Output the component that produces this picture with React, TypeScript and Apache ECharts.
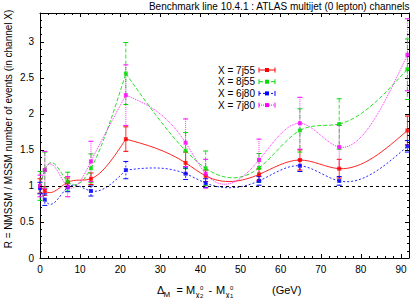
import React, { useEffect, useRef } from "react";
import * as echarts from "echarts";

const xValues = [0, 1.2, 6.9, 12.7, 21.4, 36.3, 41.3, 54.6, 64.8, 74.6, 91.6];

const r7j55 = [1.0, 0.93, 1.05, 1.1, 1.65, 1.32, 1.14, 1.16, 1.36, 1.24, 1.77];
const e7j55 = [0.1, 0.06, 0.06, 0.08, 0.17, 0.15, 0.08, 0.08, 0.14, 0.13, 0.2];

const r8j55 = [1.0, 1.22, 1.06, 1.245, 2.56, 1.49, 1.245, 1.25, 1.77, 1.86, 2.62];
const e8j55 = [0.2, 0.25, 0.13, 0.2, 0.43, 0.25, 0.24, 0.2, 0.3, 0.35, 0.42];

const r6j80 = [0.97, 0.81, 0.98, 0.93, 1.22, 1.17, 1.04, 1.07, 1.28, 1.07, 1.55];
const e6j80 = [0.08, 0.08, 0.06, 0.07, 0.12, 0.08, 0.06, 0.06, 0.08, 0.06, 0.08];

const r7j80 = [1.0, 1.22, 0.99, 1.34, 2.26, 1.6, 1.17, 1.36, 1.87, 1.54, 2.82];
const e7j80 = [0.15, 0.26, 0.14, 0.28, 0.42, 0.33, 0.2, 0.29, 0.36, 0.3, 0.5];

const seriesNames = ["X = 7j55", "X = 8j55", "X = 6j80", "X = 7j80"];
const seriesColors = ["#ff0000", "#00dd00", "#0000ff", "#ff00ff"];
const seriesDash: any[] = ["solid", [4, 2], [2, 2], [1, 1]];
const seriesValues = [r7j55, r8j55, r6j80, r7j80];
const seriesErrors = [e7j55, e8j55, e6j80, e7j80];
// the curve is smoothed in separate pieces, joined at this point index
const curveBreaks = [0, 4, 10];

const titleText = "Benchmark line 10.4.1 : ATLAS multijet (0 lepton) channels";
const yTitle = "R = NMSSM / MSSM number of events (in channel X)";
const refLine = 1;

const FONT = "Liberation Sans, Arial, sans-serif";

// natural cubic spline second derivatives
function secondDerivs(xs: number[], ys: number[]): number[] {
  const n = xs.length;
  const M = new Array(n).fill(0);
  if (n < 3) return M;
  const a: number[] = [], b: number[] = [], c: number[] = [], d: number[] = [];
  for (let i = 1; i < n - 1; i++) {
    const h0 = xs[i] - xs[i - 1];
    const h1 = xs[i + 1] - xs[i];
    a.push(h0);
    b.push(2 * (h0 + h1));
    c.push(h1);
    d.push(6 * ((ys[i + 1] - ys[i]) / h1 - (ys[i] - ys[i - 1]) / h0));
  }
  const m = b.length;
  for (let i = 1; i < m; i++) {
    const w = a[i] / b[i - 1];
    b[i] -= w * c[i - 1];
    d[i] -= w * d[i - 1];
  }
  const sol = new Array(m).fill(0);
  sol[m - 1] = d[m - 1] / b[m - 1];
  for (let i = m - 2; i >= 0; i--) sol[i] = (d[i] - c[i] * sol[i + 1]) / b[i];
  for (let i = 0; i < m; i++) M[i + 1] = sol[i];
  return M;
}

// per-segment [M_i, M_{i+1}] from piecewise splines
function segmentCurvatures(xs: number[], ys: number[]): number[][] {
  const segs: number[][] = [];
  for (let p = 0; p < curveBreaks.length - 1; p++) {
    const s = curveBreaks[p], e = curveBreaks[p + 1];
    const M = secondDerivs(xs.slice(s, e + 1), ys.slice(s, e + 1));
    for (let i = 0; i < e - s; i++) segs[s + i] = [M[i], M[i + 1]];
  }
  return segs;
}

export default function App() {
  const ref = useRef<HTMLDivElement>(null);
  useEffect(() => {
    if (!ref.current) return;
    const chart = echarts.init(ref.current, null, { renderer: "svg" });

    const axisCommon = (show: boolean) => ({
      axisLine: { show: true, onZero: false, lineStyle: { color: "#000", width: 1 } },
      axisTick: { show: true, inside: true, length: 4, lineStyle: { color: "#000" } },
      minorTick: { show: true, splitNumber: 5, length: 2, lineStyle: { color: "#000" } },
      splitLine: { show: false },
      axisLabel: {
        show,
        color: "#000",
        fontSize: 10,
        fontFamily: FONT,
        margin: 6,
        showMaxLabel: false,
      },
    });

    const series: any[] = [];
    seriesNames.forEach((name, k) => {
      const ys = seriesValues[k];
      const segs = segmentCurvatures(xValues, ys);
      const color = seriesColors[k];
      const dash = seriesDash[k] === "solid" ? null : seriesDash[k];

      series.push({
        name: name + " curve",
        type: "custom",
        data: xValues.map((x, i) => [x, ys[i]]),
        encode: { x: 0, y: 1 },
        z: 3,
        silent: true,
        markLine:
          k === 0
            ? {
                silent: true,
                symbol: "none",
                label: { show: false },
                lineStyle: { color: "#000", type: [3, 3], width: 1 },
                data: [{ yAxis: refLine }],
              }
            : undefined,
        renderItem: (params: any, api: any) => {
          const i = params.dataIndex;
          if (i >= xValues.length - 1) return null;
          const x0 = xValues[i], x1 = xValues[i + 1];
          const y0 = ys[i], y1 = ys[i + 1];
          const [Ma, Mb] = segs[i];
          const h = x1 - x0;
          const s = (y1 - y0) / h;
          const d0 = s - (h * (2 * Ma + Mb)) / 6;
          const d1 = s + (h * (Ma + 2 * Mb)) / 6;
          const p0 = api.coord([x0, y0]);
          const p3 = api.coord([x1, y1]);
          const p1 = api.coord([x0 + h / 3, y0 + (h / 3) * d0]);
          const p2 = api.coord([x1 - h / 3, y1 - (h / 3) * d1]);
          return {
            type: "bezierCurve",
            shape: { x1: p0[0], y1: p0[1], x2: p3[0], y2: p3[1], cpx1: p1[0], cpy1: p1[1], cpx2: p2[0], cpy2: p2[1] },
            style: { stroke: color, lineWidth: 1, lineDash: dash, fill: null, opacity: 0.85 },
          };
        },
      });

      series.push({
        name: name + " err",
        type: "custom",
        data: xValues.map((x, i) => [x, ys[i], seriesErrors[k][i]]),
        encode: { x: 0, y: 1 },
        z: 2,
        silent: true,
        renderItem: (params: any, api: any) => {
          const x = api.value(0);
          const y = api.value(1);
          const e = api.value(2);
          const top = api.coord([x, y + e]);
          const bot = api.coord([x, y - e]);
          const w = 2.5;
          const style = { stroke: color, lineWidth: 1, lineDash: dash, opacity: 0.8 };
          return {
            type: "group",
            children: [
              { type: "line", shape: { x1: top[0], y1: top[1], x2: bot[0], y2: bot[1] }, style },
              { type: "line", shape: { x1: top[0] - w, y1: top[1], x2: top[0] + w, y2: top[1] }, style: { stroke: color, lineWidth: 1 } },
              { type: "line", shape: { x1: bot[0] - w, y1: bot[1], x2: bot[0] + w, y2: bot[1] }, style: { stroke: color, lineWidth: 1 } },
            ],
          };
        },
      });

      series.push({
        name,
        type: "scatter",
        data: xValues.map((x, i) => [x, ys[i]]),
        symbol: "rect",
        symbolSize: 4,
        itemStyle: { color },
        z: 4,
      });
    });

    const legendGraphics: any[] = [];
    const legendTop = 70;
    const legendStep = 11.7;
    seriesNames.forEach((name, k) => {
      const y = legendTop + k * legendStep;
      const color = seriesColors[k];
      const dash = seriesDash[k] === "solid" ? null : seriesDash[k];
      legendGraphics.push(
        {
          type: "text",
          x: 255,
          y,
          style: { text: name, align: "right", verticalAlign: "middle", fill: "#000", fontSize: 10, fontFamily: FONT },
        },
        { type: "line", shape: { x1: 259, y1: y, x2: 275, y2: y }, style: { stroke: color, lineWidth: 1, lineDash: dash } },
        { type: "line", shape: { x1: 259, y1: y - 2.5, x2: 259, y2: y + 2.5 }, style: { stroke: color, lineWidth: 1 } },
        { type: "line", shape: { x1: 275, y1: y - 2.5, x2: 275, y2: y + 2.5 }, style: { stroke: color, lineWidth: 1 } },
        { type: "rect", shape: { x: 265, y: y - 2, width: 4, height: 4 }, style: { fill: color } }
      );
    });

    const xt = (text: string, x: number, y: number, size: number) => ({
      type: "text",
      x,
      y,
      style: { text, fill: "#000", fontSize: size, fontFamily: FONT, verticalAlign: "middle" },
    });

    const xTitle = [
      xt("Δ", 157, 290, 11),
      xt("M", 163.5, 294, 8),
      xt("=", 176.5, 290, 11),
      xt("M", 186, 290, 11),
      xt("χ", 195.5, 294, 8),
      xt("0", 200, 288, 6),
      xt("2", 200, 296, 6),
      xt("-", 208.5, 290, 11),
      xt("M", 216, 290, 11),
      xt("χ", 225.5, 294, 8),
      xt("0", 230, 288, 6),
      xt("1", 230, 296, 6),
      xt("(GeV)", 272, 290, 11),
    ];

    const option: any = {
      animation: false,
      backgroundColor: "#fff",
      textStyle: { fontFamily: FONT },
      grid: { left: 40, right: 4, top: 13, bottom: 40, containLabel: false },
      xAxis: [
        { type: "value", min: 0, max: 92, interval: 10, position: "bottom", ...axisCommon(true) },
        { type: "value", min: 0, max: 92, interval: 10, position: "top", ...axisCommon(false) },
      ],
      yAxis: [
        { type: "value", min: 0, max: 3.4, interval: 0.5, position: "left", ...axisCommon(true) },
        { type: "value", min: 0, max: 3.4, interval: 0.5, position: "right", ...axisCommon(false) },
      ],
      series,
      graphic: [
        {
          type: "text",
          right: 3,
          top: 1,
          style: { text: titleText, fill: "#000", fontSize: 10, fontFamily: FONT },
        },
        {
          type: "text",
          x: 8,
          y: 129,
          rotation: Math.PI / 2,
          style: { text: yTitle, fill: "#000", fontSize: 10, fontFamily: FONT, align: "center", verticalAlign: "middle" },
        },
        ...legendGraphics,
        ...xTitle,
      ],
    };
    chart.setOption(option);
    return () => chart.dispose();
  }, []);
  return <div ref={ref} style={{ width: 413, height: 298, position: "absolute", left: 0, top: 0 }} />;
}
